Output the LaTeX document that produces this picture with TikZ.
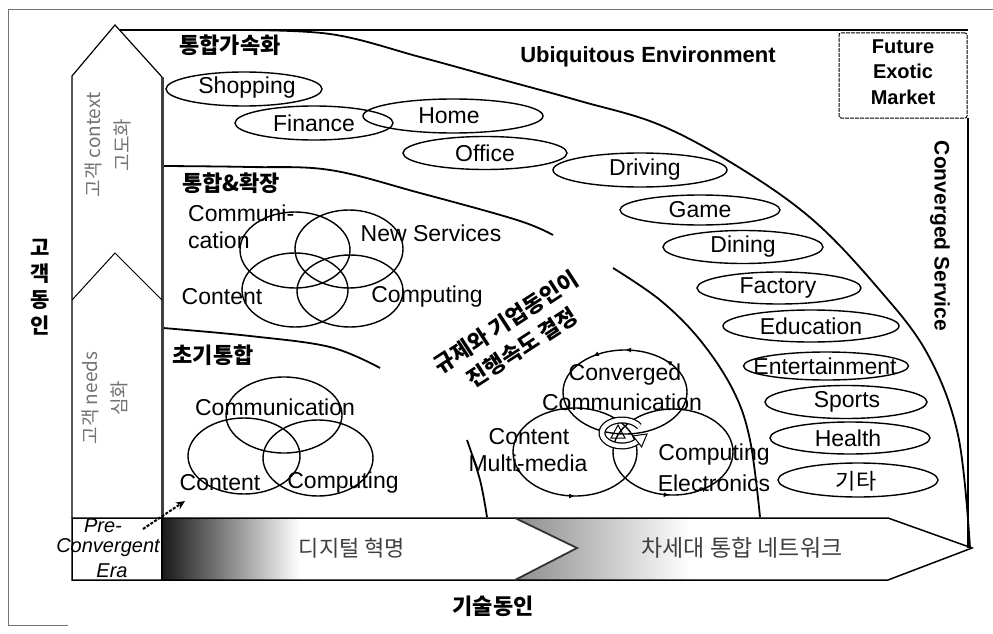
\documentclass[tikz,border=0pt]{standalone}
\usepackage{fontspec}
\setmainfont{Liberation Sans}
\newfontfamily\kr{Noto Sans CJK KR}
\usetikzlibrary{shapes.geometric,arrows.meta,decorations.markings}
\begin{document}
\begin{tikzpicture}[x=1pt,y=-1pt,
  ov/.style={draw, ellipse, line width=1.4pt, inner sep=0pt},
  lbl/.style={font=\fontsize{23}{25}\selectfont, inner sep=0pt},
  ttl/.style={font=\fontsize{21}{24}\selectfont\bfseries, inner sep=0pt},
  krt/.style={font=\kr\bfseries\fontsize{22}{30}\selectfont, inner sep=0pt},
  krn/.style={font=\kr\fontsize{22}{26}\selectfont, inner sep=0pt, text=black!75},
  krv/.style={font=\kr\fontsize{19}{29}\selectfont, inner sep=0pt, text=black!55, rotate=90, align=center},
  zone/.style={line width=1.8pt},
  vn/.style={line width=1.4pt},
  mk/.style={postaction={decorate, decoration={markings,
     mark=at position #1 with {\arrow{Latex[open,length=6pt,width=5pt]}}}}},
]
\useasboundingbox (0,0) rectangle (993,634);
\fill[white] (0,0) rectangle (993,634);

% outer frame
\draw[black!55, line width=1pt] (68,625) -- (8,625) -- (8,10) -- (993,10);

% inner frame
\draw[line width=1.5pt] (120,30) -- (968,30);
\draw[line width=1.5pt] (968,118) -- (968,548);
\node[draw, line width=1pt, dash pattern=on 4pt off 1pt, rounded corners=2pt,
      minimum width=128pt, minimum height=85pt] (fembox) at (903,75.5) {};
\node[ttl, align=center, font=\fontsize{20}{25.5}\selectfont\bfseries] (fem) at (903,72) {Future\\Exotic\\Market};
\node[ttl, rotate=-90] (cs) at (940,236) {Converged Service};
\node[ttl, font=\fontsize{22}{24}\selectfont\bfseries] (ue) at (648,57) {Ubiquitous Environment};

% zone arcs
\draw[zone] plot[smooth, tension=0.6] coordinates {(230,30) (330,34) (420,57) (500,79) (580,101) (660,125) (740,168) (813,220) (877,287) (927,353) (958,435) (970,548)};
\draw[zone] plot[smooth, tension=0.6] coordinates {(163,166) (250,167) (330,170) (420,193) (517,220) (553,235)};
\draw[zone] plot[smooth, tension=0.6] coordinates {(613,268) (660,300) (700,340) (733,390) (750,440) (760,517)};
\draw[zone] plot[smooth, tension=0.6] coordinates {(163,328) (250,336) (330,347) (380,368)};
\draw[zone] plot[smooth, tension=0.6] coordinates {(467,440) (480,480) (487,517)};

% vertical arrow
\draw[line width=1.2pt] (72,518) -- (72,76) -- (115,25) -- (162,77);
\draw[line width=3pt, black!75] (162,77) -- (162,518);
\draw[line width=1pt] (72,300) -- (115,253) -- (162,300);
\node[krv] (ctx) at (108,145) {고객 context\\고도화};
\node[krv] (nds) at (105,398) {고객 needs\\심화};
\node[krt, align=center, font=\kr\bfseries\fontsize{21}{26}\selectfont] (cust) at (40,287) {고\\객\\동\\인};

% zone titles
\node[krt] (t1) at (230,45) {통합가속화};
\node[krt] (t2) at (231,183) {통합\&확장};
\node[krt] (t3) at (213,355) {초기통합};

% service ellipses
\node[ov, minimum width=156pt, minimum height=34pt] (shop) at (244,89) {};
\node[ov, minimum width=158pt, minimum height=34pt] (fin) at (314,123) {};
\node[ov, minimum width=180pt, minimum height=34pt] (home) at (453,116) {};
\node[ov, minimum width=164pt, minimum height=33pt] (off) at (485,153) {};
\node[ov, minimum width=174pt, minimum height=34pt] (drv) at (640,170) {};
\node[ov, minimum width=160pt, minimum height=30pt] (game) at (700,210) {};
\node[ov, minimum width=160pt, minimum height=33pt] (din) at (743,247) {};
\node[ov, minimum width=164pt, minimum height=32pt] (fac) at (779,288) {};
\node[ov, minimum width=176pt, minimum height=32pt] (edu) at (811,326) {};
\node[ov, minimum width=165pt, minimum height=28pt] (ent) at (826,366) {};
\node[ov, minimum width=162pt, minimum height=33pt] (spo) at (846,402) {};
\node[ov, minimum width=160pt, minimum height=32pt] (hea) at (850,438) {};
\node[ov, minimum width=160pt, minimum height=34pt] (etc) at (858,480) {};
\node[lbl] (shopt) at (247,88) {Shopping};
\node[lbl] (fint) at (314,123) {Finance};
\node[lbl] (homet) at (449,116) {Home};
\node[lbl] (offt) at (485,153) {Office};
\node[lbl] (drvt) at (645,170) {Driving};
\node[lbl] (gamet) at (700,210) {Game};
\node[lbl] (dint) at (743,247) {Dining};
\node[lbl] (fact) at (778,288) {Factory};
\node[lbl] (edut) at (811,326) {Education};
\node[lbl] (entt) at (825,366) {Entertainment};
\node[lbl] (spot) at (847,402) {Sports};
\node[lbl] (heat) at (848,438) {Health};
\node[lbl, font=\kr\fontsize{22}{24}\selectfont] (etct) at (856,481) {기타};

% 통합&확장 venn
\draw[vn] (295,250) ellipse [x radius=55pt, y radius=38pt];
\draw[vn] (349,249) ellipse [x radius=54pt, y radius=39pt];
\draw[vn] (295,290) ellipse [x radius=53pt, y radius=37pt];
\draw[vn] (350,291) ellipse [x radius=53pt, y radius=36pt];
\node[lbl, anchor=west] (c2a) at (188,213) {Communi-};
\node[lbl, anchor=west] (c2b) at (188,240) {cation};
\node[lbl] (ns) at (431,233) {New Services};
\node[lbl] (ct2) at (222,297) {Content};
\node[lbl] (cp2) at (427,297) {Computing};

% 초기통합 venn
\draw[vn] (284,415) ellipse [x radius=58pt, y radius=38pt];
\draw[vn] (244,456) ellipse [x radius=56pt, y radius=38pt];
\draw[vn] (318,458) ellipse [x radius=55pt, y radius=38pt];
\node[lbl] (cm1) at (275,407) {Communication};
\node[lbl] (ct1) at (220,483) {Content};
\node[lbl] (cp1) at (343,483) {Computing};

% converged venn
\draw[vn, mk=0.12, mk=0.25, mk=0.35] (625,392) ellipse [x radius=62pt, y radius=42pt];
\draw[vn, mk=0.57, mk=0.75] (575,452) ellipse [x radius=62pt, y radius=44pt];
\draw[vn, mk=0.74, mk=0.86] (673,452) ellipse [x radius=60pt, y radius=43pt];
\draw[line width=7pt] (639.3,426.5) arc[start angle=30, end angle=320, x radius=20pt, y radius=13pt];
\draw[line width=4.5pt, white] (639.3,426.5) arc[start angle=30, end angle=320, x radius=20pt, y radius=13pt];
\filldraw[fill=white, line width=1pt] (633,435.9) -- (647,434) -- (641.6,446.9) -- cycle;
\draw[line width=1pt] (611,438) -- (618,425) -- (625,438) -- cycle;
\node[lbl] (cv1) at (625,375) {Converged};
\node[lbl] (cv2) at (622,402) {Communication};
\node[lbl] (cv3) at (529,437) {Content};
\node[lbl] (cv4) at (528,463) {Multi-media};
\node[lbl] (cv5) at (714,455) {Computing};
\node[lbl] (cv6) at (714,483) {Electronics};

% rotated text
\node[krt, rotate=33, align=center] (reg) at (514,335) {규제와 기업동인이\\진행속도 결정};

% bottom arrows
\node[font=\fontsize{20}{22}\selectfont\itshape, inner sep=0pt] (pre1) at (103,526) {Pre-};
\node[font=\fontsize{20}{22}\selectfont\itshape, inner sep=0pt] (pre2) at (108,548) {Convergent};
\node[font=\fontsize{20}{22}\selectfont\itshape, inner sep=0pt] (pre3) at (112,571) {Era};
\begin{scope}
  \clip (162,518) -- (515,518) -- (577,548) -- (515,580) -- (162,580) -- cycle;
  \shade[left color=black!90, right color=white] (162,518) rectangle (300,580);
\end{scope}
\begin{scope}
  \clip (515,518) -- (888,518) -- (972,548) -- (888,580) -- (515,580) -- (577,548) -- cycle;
  \shade[left color=black!45, right color=white] (515,518) rectangle (690,580);
\end{scope}
\draw[line width=1.5pt] (72,518) -- (888,518) -- (972,548) -- (888,580) -- (72,580) -- cycle;
\draw[line width=1.2pt] (162,518) -- (162,580);
\draw[line width=1.8pt, black!80] (515,518) -- (577,548) -- (515,580);
\node[krn] (dig) at (352,548) {디지털 혁명};
\node[krn, font=\kr\fontsize{23}{26}\selectfont] (nxt) at (742,548) {차세대 통합 네트워크};
\coordinate (pa) at (143,529);
\coordinate (pb) at (185,501);
\draw[line width=2pt, dash pattern=on 3pt off 1.5pt, -{Stealth[length=9pt,width=8pt]}] (pa) -- (pb);

\node[krt] (tech) at (493,606) {기술동인};
\end{tikzpicture}
\end{document}
